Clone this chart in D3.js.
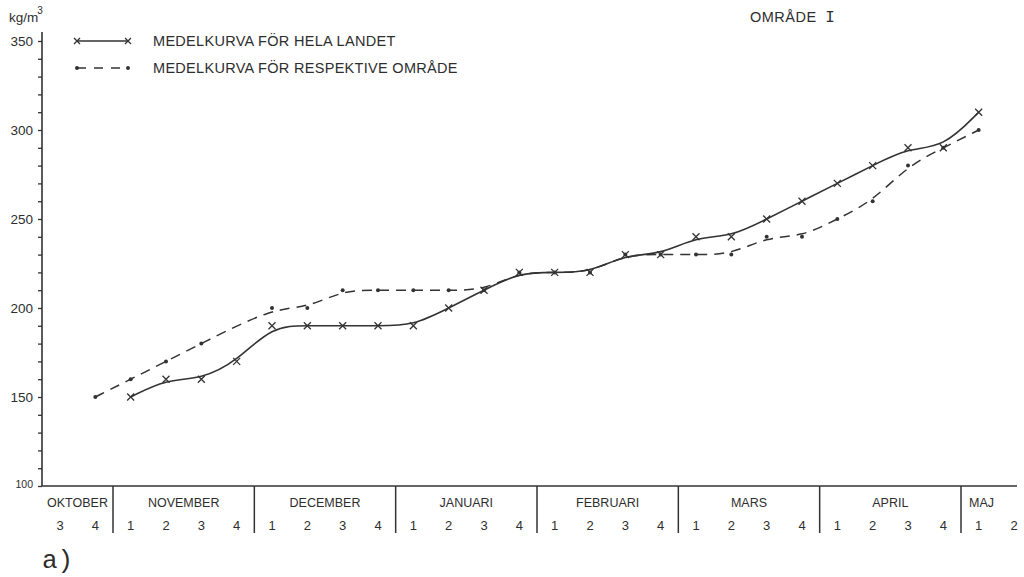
<!DOCTYPE html>
<html>
<head>
<meta charset="utf-8">
<script src="https://cdn.jsdelivr.net/npm/d3@7"></script>
<style>
  html, body { margin: 0; padding: 0; background: #ffffff; }
  svg { display: block; }
  text { fill: #2e2e2e; font-family: "Liberation Sans", Arial, sans-serif; }
</style>
</head>
<body>
<svg id="chart" width="1024" height="577"></svg>
<script>
// Months along the time axis and the week numbers shown under each month
const months = ["OKTOBER", "NOVEMBER", "DECEMBER", "JANUARI", "FEBRUARI", "MARS", "APRIL", "MAJ"];
const monthWeeks = [[3, 4], [1, 2, 3, 4], [1, 2, 3, 4], [1, 2, 3, 4], [1, 2, 3, 4], [1, 2, 3, 4], [1, 2, 3, 4], [1, 2]];

// Snow density, kg/m3, one value per week (null = no observation)
const helaLandet = [null, null,
  150, 160, 160, 170,
  190, 190, 190, 190,
  190, 200, 210, 220,
  220, 220, 230, 230,
  240, 240, 250, 260,
  270, 280, 290, 290,
  310, null];
const respektiveOmrade = [null, 150,
  160, 170, 180, null,
  200, 200, 210, 210,
  210, 210, 210, 220,
  220, 220, 230, 230,
  230, 230, 240, 240,
  250, 260, 280, 290,
  300, null];

const yTickLabels = [100, 150, 200, 250, 300, 350];
const legendLabels = ["MEDELKURVA FÖR HELA LANDET", "MEDELKURVA FÖR RESPEKTIVE OMRÅDE"];
const titleText = "OMRÅDE";
const titleNumeral = "I";
const unitText = "kg/m";
const panelLabel = "a)";

const ink = "#333";
const svg = d3.select("#chart");

// flat list of weeks, each tagged with its month
const weeks = [];
months.forEach((m, mi) => monthWeeks[mi].forEach(w => weeks.push({ month: mi, week: w })));

const x = d3.scalePoint().domain(d3.range(weeks.length)).range([60, 1014]);
const step = x.step();
const y = d3.scaleLinear().domain([100, 350]).range([486, 41]);

const axisX0 = 42, axisX1 = 1017, axisY = y(100);

// ---- y axis ----
svg.append("line")
  .attr("x1", axisX0).attr("x2", axisX0)
  .attr("y1", axisY).attr("y2", 32)
  .attr("stroke", ink).attr("stroke-width", 1.6);

const yAxis = d3.axisLeft(y)
  .tickValues(d3.range(100, 351, 10))
  .tickSize(4)
  .tickPadding(5)
  .tickFormat(d => yTickLabels.includes(d) ? d : "");
const gy = svg.append("g").attr("transform", `translate(${axisX0},0)`).call(yAxis);
gy.select(".domain").remove();
gy.selectAll(".tick line").attr("stroke", ink).attr("stroke-width", 1.3);
gy.selectAll(".tick text")
  .attr("fill", ink)
  .style("font-family", "'Liberation Sans', Arial, sans-serif")
  .style("font-size", d => d === 100 ? "10.5px" : "13.5px")
  .attr("dy", d => d === 100 ? "0.1em" : "0.33em");

// unit label
const unit = svg.append("text").attr("x", 9).attr("y", 22).style("font-size", "13.5px");
unit.append("tspan").text(unitText);
unit.append("tspan").attr("dx", -1).attr("dy", -8).style("font-size", "10px").text("3");

// ---- x axis with month blocks ----
svg.append("line")
  .attr("x1", axisX0).attr("x2", axisX1)
  .attr("y1", axisY).attr("y2", axisY)
  .attr("stroke", ink).attr("stroke-width", 1.6);

const gx = svg.append("g");
let idx = 0;
months.forEach((m, mi) => {
  const first = idx, last = idx + monthWeeks[mi].length - 1;
  const left = mi === 0 ? axisX0 : x(first) - step / 2;
  const right = mi === months.length - 1 ? axisX1 : x(last) + step / 2;
  if (mi > 0) {
    gx.append("line")
      .attr("x1", left).attr("x2", left)
      .attr("y1", axisY).attr("y2", 533)
      .attr("stroke", ink).attr("stroke-width", 1.5);
  }
  const lbl = gx.append("text")
    .attr("y", 507)
    .style("font-size", "12.5px")
    .text(m);
  if (mi === months.length - 1) {
    lbl.attr("x", left + 8).attr("text-anchor", "start");
  } else {
    lbl.attr("x", (left + right) / 2).attr("text-anchor", "middle");
  }
  idx = last + 1;
});

gx.selectAll("text.wk")
  .data(weeks)
  .join("text")
  .attr("class", "wk")
  .attr("x", (d, i) => x(i))
  .attr("y", 530)
  .attr("text-anchor", "middle")
  .style("font-size", "13px")
  .text(d => d.week);

// ---- curves ----
const line = d3.line()
  .defined(d => d.v != null)
  .x(d => x(d.i))
  .y(d => y(d.v))
  .curve(d3.curveBasis);

const toPts = arr => arr.map((v, i) => ({ i, v })).filter(d => d.v != null);
const helaPts = toPts(helaLandet);
const respPts = toPts(respektiveOmrade);

svg.append("path")
  .datum(respPts)
  .attr("d", line)
  .attr("fill", "none")
  .attr("stroke", ink)
  .attr("stroke-width", 1.5)
  .attr("stroke-dasharray", "10 7");

svg.append("path")
  .datum(helaPts)
  .attr("d", line)
  .attr("fill", "none")
  .attr("stroke", ink)
  .attr("stroke-width", 1.6);

// markers
const cross = (g, cx, cy, r) => {
  g.append("path")
    .attr("d", `M${cx - r},${cy - r}L${cx + r},${cy + r}M${cx - r},${cy + r}L${cx + r},${cy - r}`)
    .attr("stroke", ink).attr("stroke-width", 1.3).attr("fill", "none");
};
const gm = svg.append("g");
helaPts.forEach(d => cross(gm, x(d.i), y(d.v), 3.5));
gm.selectAll("circle")
  .data(respPts)
  .join("circle")
  .attr("cx", d => x(d.i))
  .attr("cy", d => y(d.v))
  .attr("r", 2)
  .attr("fill", ink);

// ---- legend ----
const lg = svg.append("g");
const lx0 = 77, lx1 = 128;
lg.append("line").attr("x1", lx0).attr("x2", lx1).attr("y1", 41).attr("y2", 41)
  .attr("stroke", ink).attr("stroke-width", 1.5);
cross(lg, lx0, 41, 3);
cross(lg, lx1, 41, 3);
lg.append("line").attr("x1", lx0).attr("x2", lx1).attr("y1", 68).attr("y2", 68)
  .attr("stroke", ink).attr("stroke-width", 1.5).attr("stroke-dasharray", "9 8");
lg.append("circle").attr("cx", lx0).attr("cy", 68).attr("r", 2).attr("fill", ink);
lg.append("circle").attr("cx", lx1).attr("cy", 68).attr("r", 2).attr("fill", ink);
lg.selectAll("text.lt")
  .data(legendLabels)
  .join("text")
  .attr("class", "lt")
  .attr("x", 153)
  .attr("y", (d, i) => 46 + i * 27)
  .style("font-size", "14.5px")
  .style("letter-spacing", "0.3px")
  .text(d => d);

// ---- title and panel label ----
const title = svg.append("text").attr("x", 750).attr("y", 22).style("font-size", "14.5px").style("letter-spacing", "0.5px");
title.append("tspan").text(titleText + " ");
title.append("tspan").attr("dx", 4).style("font-family", "'Liberation Mono', monospace").style("font-size", "16px").text(titleNumeral);

svg.append("text")
  .attr("x", 42).attr("y", 568)
  .style("font-family", "'Liberation Mono', 'Courier New', monospace")
  .style("font-size", "26px")
  .text(panelLabel);
</script>
</body>
</html>
